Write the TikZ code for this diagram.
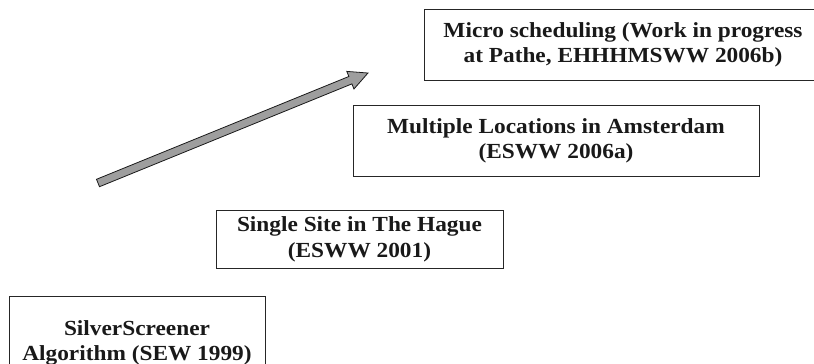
\documentclass[tikz,border=0pt]{standalone}
\usepackage{fontspec}
\setmainfont{Liberation Serif}[FakeStretch=1.085]
\usetikzlibrary{calc}

\tikzset{
  stagebox/.style={draw=black!85, line width=0.9pt, rectangle, inner sep=0pt,
    align=center, font=\bfseries\fontsize{21.5}{25.5}\selectfont, text=black!90},
  trendarrow/.style={draw=black!90, fill=black!38, line width=0.8pt, line join=miter}
}

\begin{document}
\begin{tikzpicture}[x=1pt, y=-1pt]
  \useasboundingbox (0,0) rectangle (814,364);

  % research stages, from the first algorithm up to current work
  \node[stagebox, minimum width=398pt, minimum height=71pt] (micro) at (623,45)
    {Micro scheduling (Work in progress\\at Pathe, EHHHMSWW 2006b)};
  \node[stagebox, minimum width=406pt, minimum height=71pt] (multi) at (556,141)
    {Multiple Locations in Amsterdam\\(ESWW 2006a)};
  \node[stagebox, minimum width=287pt, minimum height=58pt] (single) at (359.5,239.5)
    {Single Site in The Hague\\(ESWW 2001)};
  \node[stagebox, minimum width=256pt, minimum height=94pt] (silver) at (137,343)
    {SilverScreener\\Algorithm (SEW 1999)};

  % block arrow showing the direction of progress
  \coordinate (tail) at (98,183);
  \coordinate (tip) at (368,73);
  \path let \p1 = ($(tip)-(tail)$), \n1 = {atan2(\y1,\x1)}, \n2 = {veclen(\x1,\y1)} in
    \pgfextra{\xdef\arrang{\n1}\xdef\arrlen{\n2}};
  \begin{scope}[shift={(tail)}, rotate=\arrang]
    \draw[trendarrow] (0pt,-4pt) -- (\arrlen-19pt,-4pt) -- (\arrlen-19pt,-9.5pt)
      -- (\arrlen,0pt) -- (\arrlen-19pt,9.5pt) -- (\arrlen-19pt,4pt) -- (0pt,4pt) -- cycle;
  \end{scope}
\end{tikzpicture}
\end{document}
